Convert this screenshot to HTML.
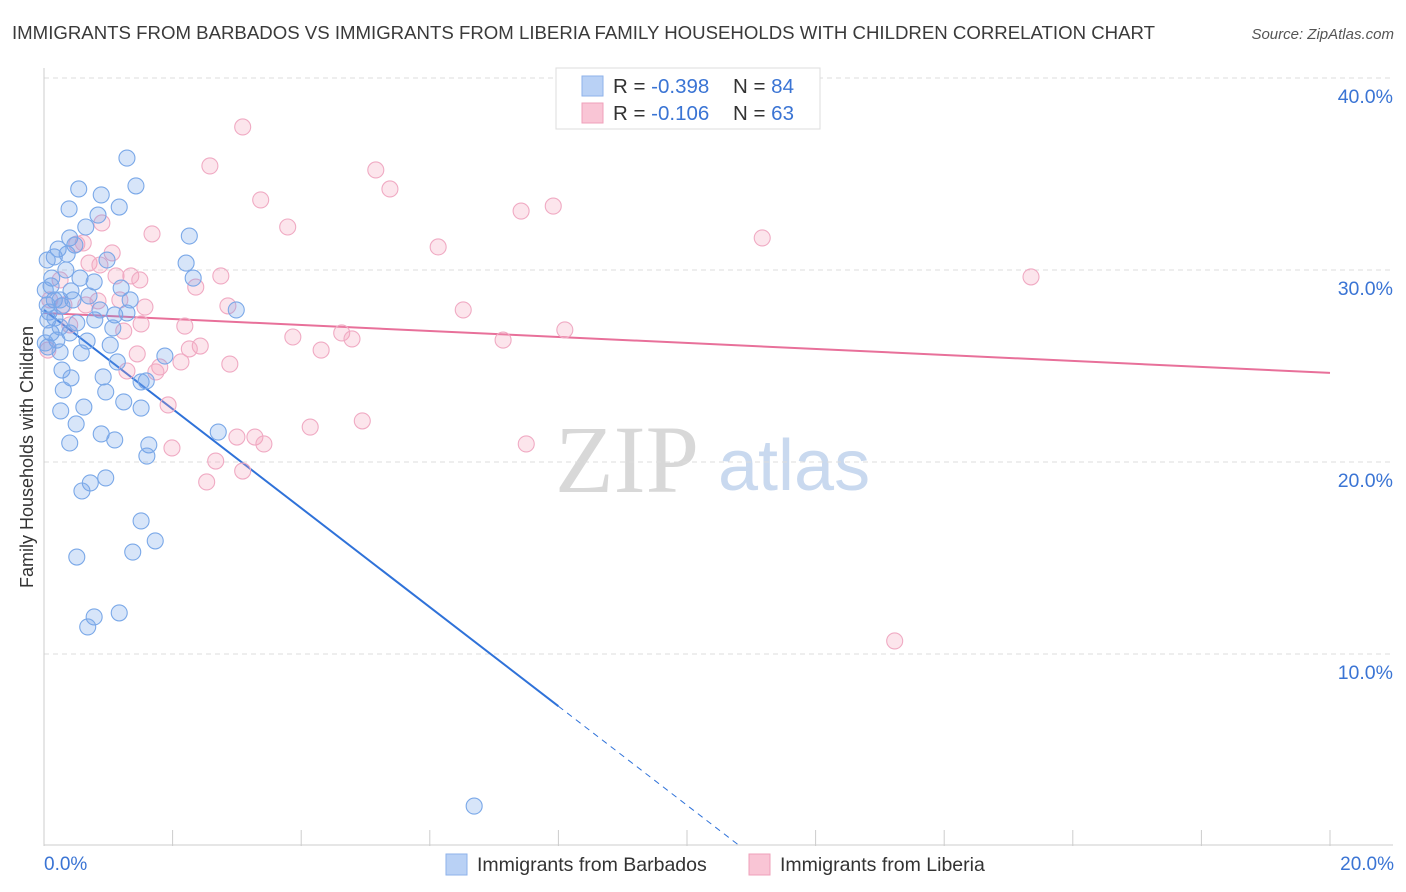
<!DOCTYPE html>
<html><head><meta charset="utf-8"><style>
body{margin:0;background:#fff;font-family:"Liberation Sans",sans-serif;}
svg{display:block}
</style></head><body>
<svg id="chart" width="1406" height="892" xmlns="http://www.w3.org/2000/svg">
<text x="12" y="39" font-size="18" textLength="1143" lengthAdjust="spacingAndGlyphs" fill="#3a3a3a">IMMIGRANTS FROM BARBADOS VS IMMIGRANTS FROM LIBERIA FAMILY HOUSEHOLDS WITH CHILDREN CORRELATION CHART</text>
<text x="1394" y="39" font-size="15" font-style="italic" fill="#555" text-anchor="end">Source: ZipAtlas.com</text>
<g>
<text x="555" y="492" font-size="96" font-family="Liberation Serif,serif" fill="#d8d8d8">ZIP</text>
<text x="718" y="490" font-size="72" fill="#c9d9ef">atlas</text>
</g>
<g id="grid"></g>
<g id="axes"></g>
<g id="trend"></g>
<g id="pts"></g>
<g>
<rect x="556" y="68" width="264" height="61" fill="#fff" stroke="#ddd"/>
<rect x="582" y="76" width="21" height="20" fill="#b9d1f5" stroke="#8eb2ea"/>
<rect x="582" y="103" width="21" height="20" fill="#f9c5d5" stroke="#efa0ba"/>
<text x="613" y="93" font-size="20.5" fill="#333">R = <tspan fill="#3a74d4">-0.398</tspan></text>
<text x="733" y="93" font-size="20.5" fill="#333">N = <tspan fill="#3a74d4">84</tspan></text>
<text x="613" y="120" font-size="20.5" fill="#333">R = <tspan fill="#3a74d4"> -0.106</tspan></text>
<text x="733" y="120" font-size="20.5" fill="#333">N = <tspan fill="#3a74d4">63</tspan></text>
</g>
<g>
<rect x="446" y="854" width="21" height="21" fill="#b9d1f5" stroke="#8eb2ea"/>
<text x="477" y="871" font-size="19.5" fill="#333">Immigrants from Barbados</text>
<rect x="749" y="854" width="21" height="21" fill="#f9c5d5" stroke="#efa0ba"/>
<text x="780" y="871" font-size="19.5" fill="#333">Immigrants from Liberia</text>
</g>
<text transform="translate(33,457) rotate(-90)" font-size="18" fill="#333" text-anchor="middle">Family Households with Children</text>
</svg>
<script>
const yTicks=[10,20,30,40];
const yTickLabels=["10.0%","20.0%","30.0%","40.0%"];
const xEdgeLabels=["0.0%","20.0%"];
const barbX=[1.29,1.43,0.54,0.89,0.39,1.17,0.84,0.65,2.26,0.40,0.22,0.48,0.16,0.36,0.98,2.21,0.34,0.56,2.32,0.11,0.78,1.20,0.42,0.70,0.16,0.45,0.05,0.08,0.28,1.10,1.29,2.99,0.79,0.06,0.51,1.07,0.11,0.40,0.20,1.03,0.67,0.06,0.25,0.58,1.88,1.14,0.28,0.42,0.92,1.59,1.51,0.30,0.96,1.24,1.51,0.62,0.26,0.50,0.89,1.10,0.40,1.63,1.60,2.71,0.96,0.72,0.59,1.51,1.73,1.38,0.51,0.78,1.17,0.68,6.69,0.12,0.02,0.17,0.25,0.02,0.05,0.25,0.87,1.34];
const barbY=[35.83,34.38,34.22,33.91,33.18,33.28,32.86,32.24,31.77,31.67,31.09,31.30,30.68,30.83,30.52,30.36,30.0,29.58,29.58,29.17,29.38,29.06,28.91,28.65,28.44,28.44,28.18,27.81,28.13,27.66,27.76,27.92,27.40,27.40,27.24,26.98,26.72,26.72,26.35,26.09,26.30,25.99,25.73,25.68,25.52,25.21,24.79,24.38,24.43,24.22,24.17,23.75,23.65,23.13,22.81,22.86,22.66,21.98,21.46,21.15,20.99,20.89,20.31,21.56,19.17,18.91,18.49,16.93,15.89,15.31,15.05,11.93,12.14,11.41,2.08,29.58,28.96,27.50,27.03,26.20,30.52,28.44,27.92,28.44];
const libX=[3.09,2.58,5.16,5.38,3.37,3.79,7.42,7.92,11.17,6.13,15.35,1.68,0.90,0.51,0.70,1.12,1.35,2.75,2.36,0.84,1.57,2.86,6.52,0.31,0.65,2.19,1.51,3.87,4.63,4.79,8.10,7.14,0.40,1.24,2.43,2.26,4.31,1.45,1.80,2.89,2.13,1.29,1.74,1.93,4.95,4.14,3.00,3.28,3.42,7.50,1.99,2.67,3.09,2.53,13.23,0.06,0.61,1.06,0.25,0.09,1.49,0.87,1.18];
const libY=[37.45,35.42,35.21,34.22,33.65,32.24,33.07,33.33,31.67,31.20,29.64,31.88,32.45,31.35,30.36,29.69,29.69,29.69,29.11,28.39,28.07,28.13,27.92,28.18,28.18,27.08,27.19,26.51,26.72,26.41,26.88,26.35,27.14,26.82,26.04,25.89,25.83,25.63,24.95,25.10,25.21,24.74,24.69,22.97,22.14,21.82,21.30,21.30,20.94,20.94,20.73,20.05,19.53,18.96,10.68,25.83,31.41,30.89,29.48,28.44,29.48,30.26,28.44];
const barbTrend=[27.92,-2.58];
const libTrend=[27.76,-0.156];
const NS="http://www.w3.org/2000/svg";
const X0=44,X1=1330,Y0=846,Y1=78;
function sx(v){return X0+(v/20)*(X1-X0);}
function sy(v){return Y0-(v/40)*(Y0-Y1);}
function mk(tag,attrs,parent){const e=document.createElementNS(NS,tag);for(const k in attrs)e.setAttribute(k,attrs[k]);parent.appendChild(e);return e;}
const grid=document.getElementById('grid'),axes=document.getElementById('axes'),trend=document.getElementById('trend'),pts=document.getElementById('pts');
yTicks.forEach((t,i)=>{
 const l=mk('line',{x1:X0,x2:1393,y1:sy(t),y2:sy(t),stroke:'#ddd','stroke-dasharray':'5,4'},grid);
 
 
 const tx=mk('text',{x:1393,y:sy(t)+25,'font-size':19.5,fill:'#3a74d4','text-anchor':'end'},axes);
 tx.textContent=yTickLabels[i];
 
 
});
const ax=mk('line',{x1:X0,x2:X0,y1:68,y2:Y0,stroke:'#ccc'},axes);


const bx=mk('line',{x1:X0,x2:1393,y1:Y0-1,y2:Y0-1,stroke:'#ccc'},axes);


for(let i=0;i<=20;i+=2){
 const tk=mk('line',{x1:sx(i),x2:sx(i),y1:Y0-16,y2:Y0,stroke:'#ccc'},axes);
 
 
}
[[0,'start',44],[20,'end',1394]].forEach((d,i)=>{
 const tx=mk('text',{x:d[2],y:870,'font-size':19,fill:'#3a74d4','text-anchor':d[1]},axes);
 tx.textContent=xEdgeLabels[i];
 
 
});
function drawPts(xs,ys,fill,stroke,name){
 xs.forEach((x,i)=>{
  const c=mk('circle',{cx:sx(x),cy:sy(ys[i]),r:8,fill:fill,stroke:stroke,'stroke-width':1.1},pts);
  
  
 });
}
drawPts(libX,libY,'rgba(244,160,188,0.28)','#f0aac3','liberia-point');
drawPts(barbX,barbY,'rgba(110,160,235,0.28)','#7aa8e8','barbados-point');
const bEnd=-barbTrend[0]/barbTrend[1];
const b1=mk('line',{x1:sx(0),y1:sy(barbTrend[0]),x2:sx(8),y2:sy(barbTrend[0]+barbTrend[1]*8),stroke:'#2f72d9','stroke-width':2},trend);


const b2=mk('line',{x1:sx(8),y1:sy(barbTrend[0]+barbTrend[1]*8),x2:sx(bEnd),y2:sy(0),stroke:'#2f72d9','stroke-width':1,'stroke-dasharray':'6,5'},trend);


const l1=mk('line',{x1:sx(0),y1:sy(libTrend[0]),x2:sx(20),y2:sy(libTrend[0]+libTrend[1]*20),stroke:'#e8709a','stroke-width':2},trend);


</script>
</body></html>
